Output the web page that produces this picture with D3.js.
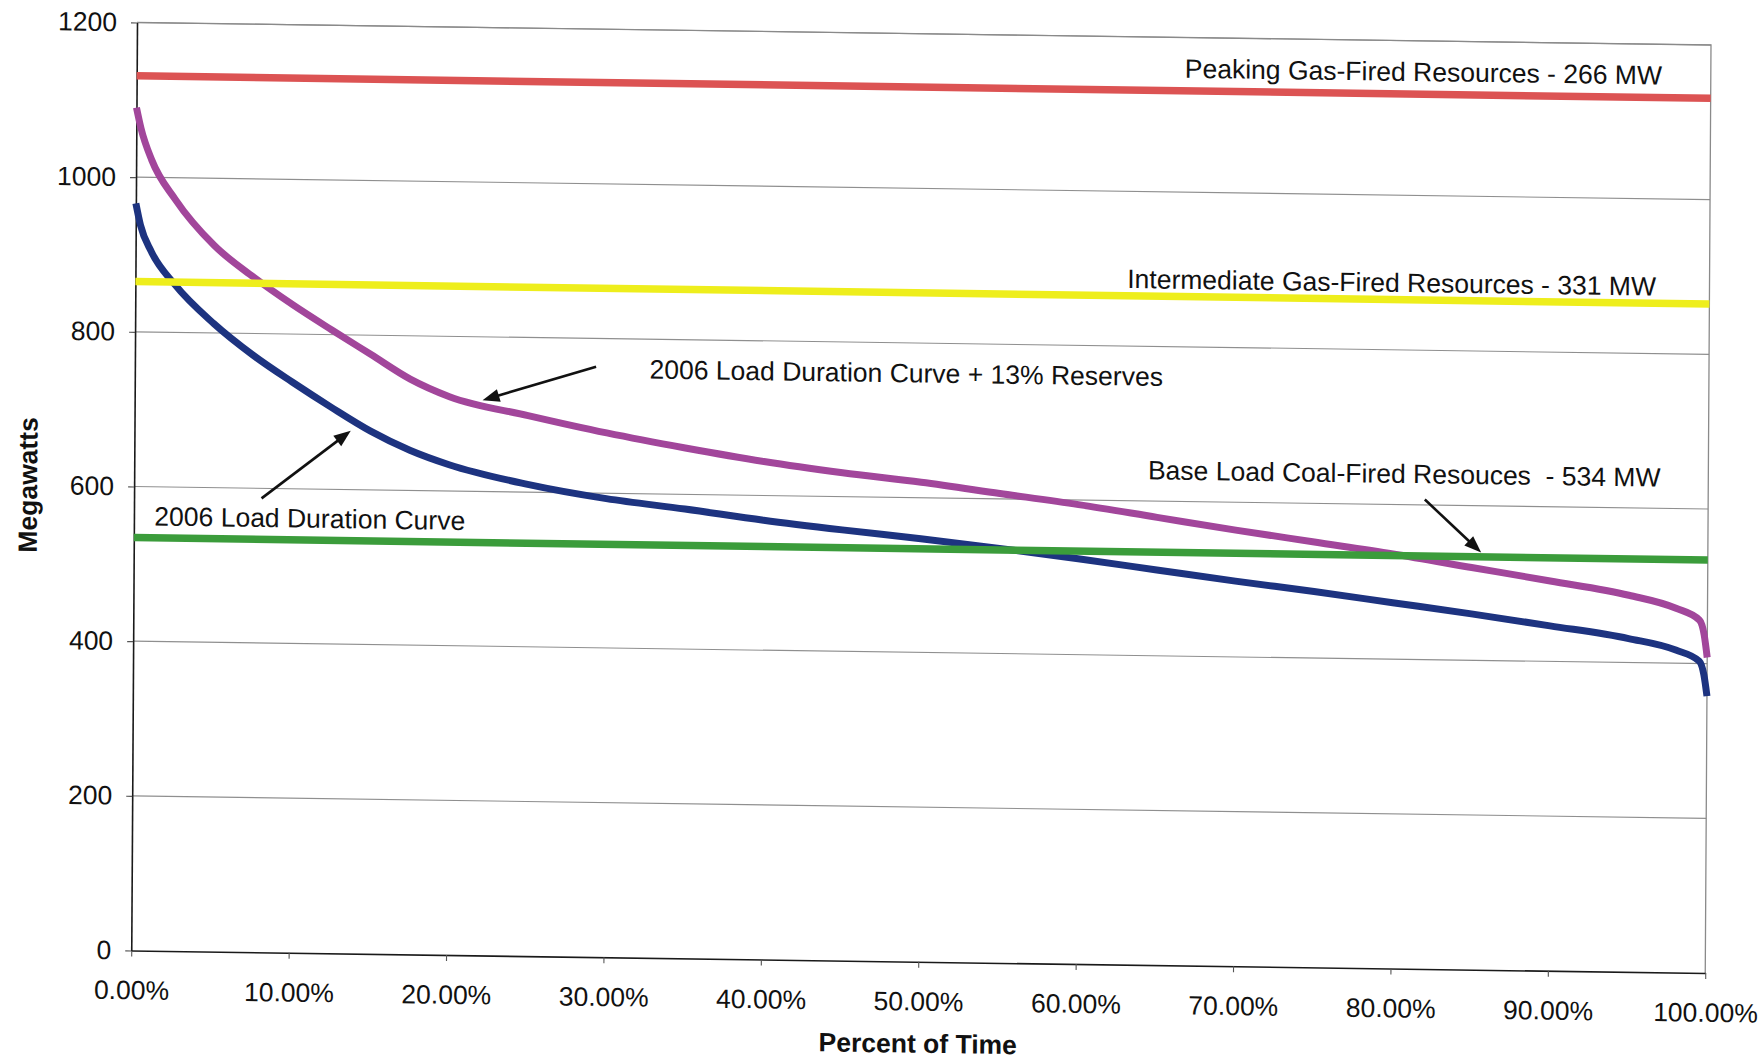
<!DOCTYPE html>
<html>
<head>
<meta charset="utf-8">
<script src="https://cdn.jsdelivr.net/npm/d3@7"></script>
<style>
  html, body { margin: 0; padding: 0; background: #ffffff; }
  svg { display: block; font-family: "Liberation Sans", Arial, Helvetica, sans-serif; }
</style>
</head>
<body>
<svg id="chart" width="1764" height="1062"></svg>
<script>
// ---- data -------------------------------------------------------------
// Percent of the year's hours for which load is at or above the value
const percentOfTime = [0, 0.3, 1, 2.5, 5, 7.5, 10, 12.5, 15, 17.5, 20, 25, 30, 35, 40, 45, 50,
                       55, 60, 65, 70, 75, 80, 85, 90, 95, 98, 99.5, 99.8, 100];

// 2006 load duration curve (MW)
const load2006 = [966, 938, 904, 862, 812, 772, 738, 706, 676, 652, 634, 610, 593, 581, 568, 557, 547,
                  536, 524, 511, 498, 486, 473, 460, 446, 431, 417, 403, 385, 358];

// 2006 load duration curve + 13% reserves (MW)
const loadPlusReserves = [1090, 1063, 1022, 972, 913, 873, 838, 806, 775, 744, 722, 699, 678, 660, 644, 631, 620,
                          607, 594, 579, 564, 550, 536, 520, 504, 487, 471, 456, 437, 408];

// Resource blocks, stacked from the bottom: base, intermediate, peaking (MW)
const resourceCapacity = [534, 331, 266];
const resourceLabels = [
  "Base Load Coal-Fired Resouces  - 534 MW",
  "Intermediate Gas-Fired Resources - 331 MW",
  "Peaking Gas-Fired Resources - 266 MW"
];

const yTickValues = [0, 200, 400, 600, 800, 1000, 1200];
const xTickValues = [0, 10, 20, 30, 40, 50, 60, 70, 80, 90, 100];

const curveLabels = ["2006 Load Duration Curve", "2006 Load Duration Curve + 13% Reserves"];

// ---- layout ------------------------------------------------------------
const plotLeft = 137, plotTop = 22.5, plotW = 1574, plotH = 928;
const FONT = 26.5;
const colors = {
  load: "#1d3380",
  reserves: "#a2469b",
  base: "#3b9c3b",
  intermediate: "#eeee1c",
  peaking: "#dc5353"
};

const x = d3.scaleLinear().domain([0, 100]).range([plotLeft, plotLeft + plotW]);
const y = d3.scaleLinear().domain([0, 1200]).range([plotTop + plotH, plotTop]);

const svg = d3.select("#chart");
svg.append("rect").attr("width", 1764).attr("height", 1062).attr("fill", "#ffffff");

// the printed page sits slightly askew: shear the whole drawing a little
const shearY = 0.0143, shearX = -0.0062;
const g = svg.append("g")
  .attr("transform", `matrix(1,${shearY},${shearX},1,${-shearX * plotTop},${-shearY * plotLeft})`);

// horizontal gridlines
g.append("g").selectAll("line")
  .data(yTickValues.filter(v => v > 0))
  .join("line")
  .attr("x1", x(0)).attr("x2", x(100))
  .attr("y1", d => y(d)).attr("y2", d => y(d))
  .attr("stroke", "#8f8f8f").attr("stroke-width", 1.1);

// plot frame (top and right edges)
g.append("path")
  .attr("d", `M${x(0)},${y(1200)}H${x(100)}V${y(0)}`)
  .attr("fill", "none").attr("stroke", "#8a8a8a").attr("stroke-width", 1.3);

// axes
const xAxis = g.append("g")
  .attr("transform", `translate(0,${y(0)})`)
  .call(d3.axisBottom(x).tickValues(xTickValues)
    .tickFormat(d => d.toFixed(2) + "%")
    .tickSize(6).tickSizeOuter(0).tickPadding(24));

const yAxis = g.append("g")
  .attr("transform", `translate(${x(0)},0)`)
  .call(d3.axisLeft(y).tickValues(yTickValues)
    .tickFormat(d3.format("d"))
    .tickSize(6).tickSizeOuter(0).tickPadding(14));

[xAxis, yAxis].forEach(a => {
  a.attr("font-family", null).attr("font-size", null);
  a.select(".domain").attr("stroke", "#1a1a1a").attr("stroke-width", 1.6);
  a.selectAll(".tick line").attr("stroke", "#555").attr("stroke-width", 1.1);
  a.selectAll(".tick text").attr("fill", "#111").style("font-size", FONT + "px");
});

// axis titles
g.append("text")
  .attr("x", x(50)).attr("y", y(0) + 91)
  .attr("text-anchor", "middle")
  .style("font-size", FONT + "px").style("font-weight", "bold")
  .attr("fill", "#111")
  .text("Percent of Time");

g.append("text")
  .attr("transform", `translate(40,${y(600)}) rotate(-90)`)
  .attr("text-anchor", "middle")
  .style("font-size", FONT + "px").style("font-weight", "bold")
  .attr("fill", "#111")
  .text("Megawatts");

// load duration curves
const line = d3.line()
  .x(d => x(d[0]))
  .y(d => y(d[1]))
  .curve(d3.curveMonotoneX);

const curves = [
  { values: load2006, color: colors.load },
  { values: loadPlusReserves, color: colors.reserves }
];
g.append("g").selectAll("path")
  .data(curves)
  .join("path")
  .attr("d", c => line(percentOfTime.map((p, i) => [p, c.values[i]])))
  .attr("fill", "none")
  .attr("stroke", c => c.color)
  .attr("stroke-width", 7)
  .attr("stroke-linejoin", "round");

// stacked resource levels
const resourceLevels = d3.cumsum(resourceCapacity);
const resourceColors = [colors.base, colors.intermediate, colors.peaking];
g.append("g").selectAll("line")
  .data(resourceLevels)
  .join("line")
  .attr("x1", x(0)).attr("x2", x(100))
  .attr("y1", d => y(d)).attr("y2", d => y(d))
  .attr("stroke", (d, i) => resourceColors[i])
  .attr("stroke-width", 7.5);

// text annotations, anchored in data units
const notes = [
  { text: resourceLabels[2], at: [96.9, 1160], anchor: "end" },
  { text: resourceLabels[1], at: [96.6, 887], anchor: "end" },
  { text: curveLabels[1], at: [32.7, 761], anchor: "start" },
  { text: resourceLabels[0], at: [64.4, 640], anchor: "start" },
  { text: curveLabels[0], at: [1.3, 562], anchor: "start" }
];
g.append("g").selectAll("text")
  .data(notes)
  .join("text")
  .attr("x", d => x(d.at[0]))
  .attr("y", d => y(d.at[1]))
  .attr("dy", "0.35em")
  .attr("text-anchor", d => d.anchor)
  .style("font-size", FONT + "px")
  .style("white-space", "pre")
  .attr("fill", "#111")
  .text(d => d.text);

// pointer arrows: tail -> tip, in data units
const pointers = [
  { from: [29.3, 763.5], to: [22.1, 718] },
  { from: [8.1, 587], to: [13.74, 676] },
  { from: [82.0, 607], to: [85.6, 539.5] }
];
const arrows = g.append("g");
pointers.forEach(p => {
  const x1 = x(p.from[0]), y1 = y(p.from[1]);
  const x2 = x(p.to[0]), y2 = y(p.to[1]);
  const len = Math.hypot(x2 - x1, y2 - y1);
  const ux = (x2 - x1) / len, uy = (y2 - y1) / len;
  const headL = 17, headW = 13;
  const bx = x2 - ux * headL, by = y2 - uy * headL;
  arrows.append("line")
    .attr("x1", x1).attr("y1", y1)
    .attr("x2", bx + ux * 2).attr("y2", by + uy * 2)
    .attr("stroke", "#111").attr("stroke-width", 2.6);
  arrows.append("path")
    .attr("d", `M${x2},${y2}L${bx - uy * headW / 2},${by + ux * headW / 2}L${bx + uy * headW / 2},${by - ux * headW / 2}Z`)
    .attr("fill", "#111");
});
</script>
</body>
</html>
